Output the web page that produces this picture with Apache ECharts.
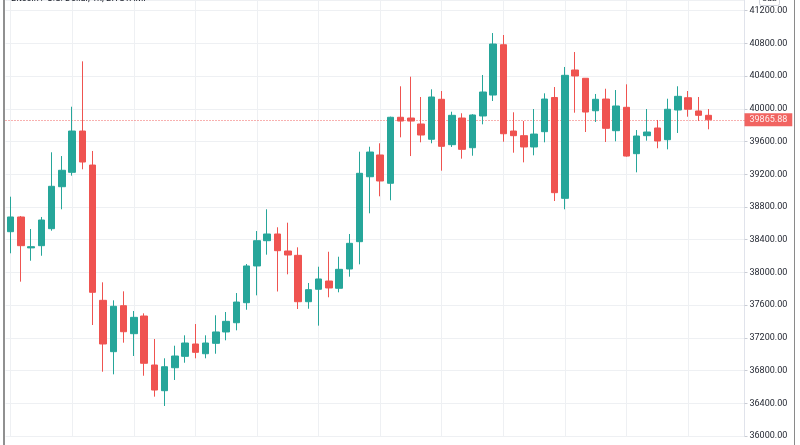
<!DOCTYPE html>
<html>
<head>
<meta charset="utf-8">
<script src="https://cdn.jsdelivr.net/npm/echarts@6/dist/echarts.min.js"></script>
<style>html,body{margin:0;padding:0;background:#fff;}#c{width:800px;height:445px;}</style>
</head>
<body>
<div id="c"></div>
<script>
const categories = ['1','2','3','4','5','6','7','8','9','10','11','12','13','14','15','16','17','18','19','20','21','22','23','24','25','26','27','28','29','30','31','32','33','34','35','36','37','38','39','40','41','42','43','44','45','46','47','48','49','50','51','52','53','54','55','56','57','58','59','60','61','62','63','64','65','66','67','68','69','70','71','72'];
const opens = [38498,38678,38300,38327,38535,39048,39224,39729,39313,37659,37031,37593,37251,37467,36868,36554,36835,36974,37125,37006,37133,37272,37385,37630,38079,38388,38470,38262,38209,37642,37794,37895,37806,38042,38376,39170,39436,39090,39897,39888,39815,39628,40117,39562,39888,39525,39913,40169,40784,39729,39672,39534,39721,40139,38906,40475,40374,39977,40120,39733,40019,39452,39672,39766,39623,39986,40136,39974,39921];
const closes = [38678,38327,38315,38641,39053,39249,39729,39350,37757,37125,37586,37275,37451,36889,36562,36847,36978,37137,37023,37137,37272,37402,37638,38079,38388,38470,38266,38213,37642,37789,37920,37810,38038,38356,39212,39472,39118,39897,39851,39851,39680,40145,39542,39921,39505,39925,40206,40793,39696,39672,39534,39692,40120,38975,40410,40402,39961,40117,39762,40035,39423,39668,39717,39607,39995,40153,39995,39921,39865.88];
const lows = [38234,37887,38143,38204,38510,38772,39183,39261,37357,36786,36754,37141,36978,36737,36481,36367,36685,36896,36950,36950,37006,37170,37292,37544,37720,38217,37767,37977,37553,37556,37349,37696,37757,37948,38099,38723,38931,38882,39652,39423,39591,39579,39244,39534,39391,39427,39811,40096,39598,39464,39346,39432,39591,38873,38772,39953,39717,39839,39595,39603,39415,39224,39611,39518,39505,39705,39904,39851,39750];
const highs = [38926,38690,38531,38678,39469,39423,40026,40581,39485,37879,37659,37769,37528,37500,37186,36950,37104,37231,37369,37231,37476,37516,37748,38103,38506,38772,38552,38608,38307,37871,38070,38253,38192,38470,39476,39537,39579,39905,40276,40393,40145,40239,40218,39965,39946,39935,40414,40927,40903,39958,39851,39998,40190,40267,40512,40695,40374,40182,40246,40230,40300,39741,39998,39864,40124,40276,40218,40145,39998];
const verticalGridCategories = ['1','7','13','19','25','31','37','43','49','55','61','67'];
const lastPrice = 39865.88;
const title = 'Bitcoin / U.S. Dollar, 1h, BITSTAMP';

const UP = '#26a69a', DOWN = '#ef5350';
const candleData = opens.map((o, i) => [o, closes[i], lows[i], highs[i]]);

const chart = echarts.init(document.getElementById('c'), null, {renderer: 'canvas'});
chart.setOption({
  animation: false,
  backgroundColor: '#ffffff',
  grid: {left: 5.5, right: 55.5, top: 0, bottom: 9},
  xAxis: {
    type: 'category', data: categories, boundaryGap: true,
    axisLine: {show: false}, axisTick: {show: false}, axisLabel: {show: false}, splitLine: {show: false}
  },
  yAxis: {
    type: 'value', position: 'right', min: 36000, max: 41331, interval: 400, scale: true,
    axisLine: {show: true, lineStyle: {color: '#e0e3eb'}},
    axisTick: {show: true, length: 3, lineStyle: {color: '#c9ccd4'}},
    axisLabel: {show: true, showMaxLabel: false, margin: 5, color: '#1e222d', fontSize: 9, fontFamily: 'Roboto, sans-serif',
      formatter: v => v.toFixed(2)},
    splitLine: {show: true, lineStyle: {color: '#eef0f3', width: 1}}
  },
  series: [{
    type: 'candlestick',
    data: candleData,
    barWidth: 7,
    itemStyle: {color: UP, color0: DOWN, borderColor: UP, borderColor0: DOWN, borderWidth: 1},
    markLine: {
      silent: true, symbol: ['none', 'none'], z: 1, animation: false,
      data: verticalGridCategories.map(c => ({
        xAxis: c, lineStyle: {color: '#eef0f3', type: 'solid', width: 1}, label: {show: false}
      })).concat([{
        yAxis: lastPrice,
        lineStyle: {color: DOWN, type: [1, 2], width: 1, opacity: 0.9},
        label: {show: true, position: 'end', distance: 0, formatter: lastPrice.toFixed(2),
          backgroundColor: DOWN, color: '#ffffff', fontSize: 9, lineHeight: 9, fontFamily: 'Roboto, sans-serif',
          padding: [2, 5, 2, 5]}
      }])
    }
  }],
  graphic: [
    {type: 'text', left: 11, top: -6, z: 10, style: {text: title, fontSize: 9, fontFamily: 'Roboto, sans-serif', fill: '#131722'}},
    {type: 'rect', left: 759, top: -8, z: 10, shape: {width: 20, height: 13, r: 2}, style: {fill: '#fff', stroke: '#d1d4dc', lineWidth: 1}},
    {type: 'text', left: 762, top: -5, z: 11, style: {text: 'USD', fontSize: 8, fontFamily: 'Roboto, sans-serif', fill: '#131722'}},
    {type: 'line', z: 10, shape: {x1: 4, y1: 0, x2: 4, y2: 445}, style: {stroke: '#6b6b6b', lineWidth: 1.5}},
    {type: 'line', z: 10, shape: {x1: 794.5, y1: 0, x2: 794.5, y2: 445}, style: {stroke: '#8a8a8a', lineWidth: 1}}
  ]
});
</script>
</body>
</html>
